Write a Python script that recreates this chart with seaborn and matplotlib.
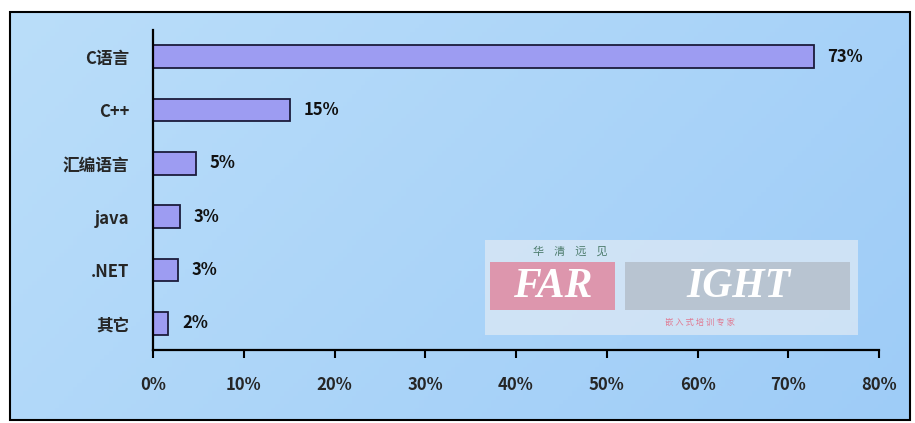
import numpy as np
import pandas as pd
import matplotlib
matplotlib.use("Agg")
import matplotlib.pyplot as plt
import matplotlib.patches as mpatches
import seaborn as sns

# data
languages = ["C语言", "C++", "汇编语言", "java", ".NET", "其它"]
shares = [72.8, 15.1, 4.7, 3.0, 2.8, 1.7]
share_labels = ["73%", "15%", "5%", "3%", "3%", "2%"]
x_ticks = [0, 10, 20, 30, 40, 50, 60, 70, 80]

sns.set_theme(style="white")
plt.rcParams["font.family"] = ["Noto Sans CJK SC", "DejaVu Sans"]
plt.rcParams["font.weight"] = "bold"

fig = plt.figure(figsize=(9.15, 4.23), dpi=100)
fig.patch.set_facecolor("white")

# background gradient panel with black frame
bg = fig.add_axes([0, 0, 1, 1], zorder=0)
bg.set_xlim(0, 915)
bg.set_ylim(423, 0)
bg.axis("off")
xs = np.linspace(0, 1, 200)
ys = np.linspace(0, 1, 100)
gx, gy = np.meshgrid(xs, ys)
c0 = np.array([0.73, 0.87, 0.98])
c1 = np.array([0.62, 0.80, 0.97])
t = (0.7 * gx + 0.3 * gy)[..., None]
grad = c0 * (1 - t) + c1 * t
bg.imshow(grad, extent=[10, 910, 420, 12], aspect="auto", zorder=0)
bg.add_patch(mpatches.Rectangle((10, 12), 900, 408, fill=False,
                                edgecolor="black", linewidth=1.5, zorder=2))

# faint watermark logo
bg.add_patch(mpatches.Rectangle((485, 240), 373, 95, facecolor="#dde9f5",
                                edgecolor="none", alpha=0.75, zorder=1))
bg.add_patch(mpatches.Rectangle((490, 262), 125, 48, facecolor="#e27d95",
                                edgecolor="none", alpha=0.75, zorder=1))
bg.add_patch(mpatches.Rectangle((625, 262), 225, 48, facecolor="#b3bdc9",
                                edgecolor="none", alpha=0.8, zorder=1))
bg.text(553, 287, "FAR", fontsize=30, color="white", style="italic",
        family="Liberation Serif", ha="center", va="center", zorder=1)
bg.text(738, 287, "IGHT", fontsize=30, color="white", style="italic",
        family="Liberation Serif", ha="center", va="center", zorder=1)
bg.text(570, 252, "华    清    远    见", fontsize=8, color="#4a7a6a",
        ha="center", va="center", zorder=1, weight="normal")
bg.text(700, 322, "嵌 入 式 培 训 专 家", fontsize=6, color="#e07a92",
        ha="center", va="center", zorder=1, weight="normal")

ax = fig.add_axes([153 / 915, 73 / 423, 726 / 915, 320 / 423], zorder=3)
ax.patch.set_alpha(0)

df = pd.DataFrame({"lang": languages, "share": shares})
sns.barplot(data=df, x="share", y="lang", order=languages, orient="h",
            color="#9d9cf2", saturation=1, width=0.42,
            edgecolor="#1c1c3c", linewidth=1.3, ax=ax)

for i, (v, lab) in enumerate(zip(shares, share_labels)):
    ax.text(v + 1.5, i, lab, ha="left", va="center", fontsize=12,
            fontweight="bold", color="#111111")

ax.set_xlim(0, 80)
ax.set_ylim(5.5, -0.5)
ax.set_xticks(x_ticks)
ax.set_xticklabels([f"{v}%" for v in x_ticks], fontsize=12, fontweight="bold")
ax.tick_params(axis="x", direction="out", length=6, width=1.5, color="black",
               pad=13, bottom=True)
ax.tick_params(axis="y", length=0, pad=17, labelsize=12)
for lab in ax.get_yticklabels():
    lab.set_fontweight("bold")
ax.set_xlabel("")
ax.set_ylabel("")
for side in ["top", "right"]:
    ax.spines[side].set_visible(False)
for side in ["left", "bottom"]:
    ax.spines[side].set_color("black")
    ax.spines[side].set_linewidth(1.6)

fig.savefig("out.png", dpi=100)
